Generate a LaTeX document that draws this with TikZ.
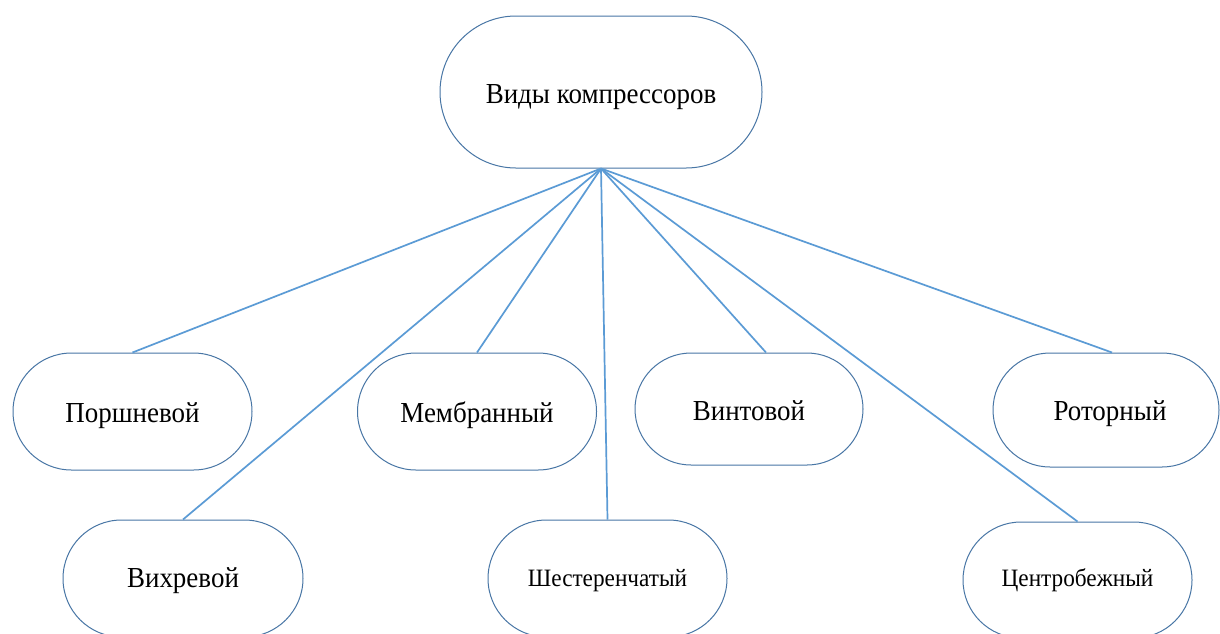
\documentclass[tikz,border=0pt]{standalone}
\usepackage{fontspec}
\setmainfont[FakeStretch=0.93]{Liberation Serif}
\definecolor{linkblue}{RGB}{91,155,213}
\definecolor{boxblue}{RGB}{72,118,165}
\newcommand{\lowr}[2]{\raisebox{-#1}[\height][\depth]{#2}}
\begin{document}
\begin{tikzpicture}[x=1pt,y=-1pt,
  kind/.style={draw=boxblue, line width=1pt, fill=white, inner sep=0pt, font=\fontsize{29}{32}\selectfont},
  small/.style={font=\fontsize{25}{28}\selectfont},
  link/.style={draw=linkblue, line width=1.7pt}]
\useasboundingbox (0,0) rectangle (1220,633);
\clip (0,0) rectangle (1220,633);
\fill[white] (0,0) rectangle (1220,633);
\node[kind, minimum width=322pt, minimum height=152pt, rounded corners=76pt] (top) at (601,92) {\lowr{5pt}{Виды компрессоров}};
\node[kind, minimum width=239pt, minimum height=117pt, rounded corners=58.5pt] (por) at (132.5,411.5) {\lowr{4pt}{Поршневой}};
\node[kind, minimum width=240pt, minimum height=117pt, rounded corners=58.5pt] (vix) at (183,578.5) {\lowr{2pt}{Вихревой}};
\node[kind, minimum width=239pt, minimum height=117pt, rounded corners=58.5pt] (mem) at (477,411.5) {\lowr{4pt}{Мембранный}};
\node[kind, small, minimum width=239pt, minimum height=117pt, rounded corners=58.5pt] (shes) at (607.5,578.5) {\lowr{2pt}{Шестеренчатый}};
\node[kind, minimum width=228pt, minimum height=112pt, rounded corners=56pt] (vint) at (749,409) {\lowr{2pt}{Винтовой}};
\node[kind, small, minimum width=229pt, minimum height=116pt, rounded corners=58pt] (cent) at (1077.5,580) {Центробежный};
\node[kind, minimum width=226pt, minimum height=114pt, rounded corners=57pt] (rot) at (1106,410) {\hspace*{8pt}\lowr{4pt}{Роторный}};
\draw[link] (top.south) -- (por.north);
\draw[link] (top.south) -- (vix.north);
\draw[link] (top.south) -- (mem.north);
\draw[link] (top.south) -- (shes.north);
\draw[link] (top.south) -- ([xshift=17pt]vint.north);
\draw[link] (top.south) -- (cent.north);
\draw[link] (top.south) -- ([xshift=6pt]rot.north);
\end{tikzpicture}
\end{document}
